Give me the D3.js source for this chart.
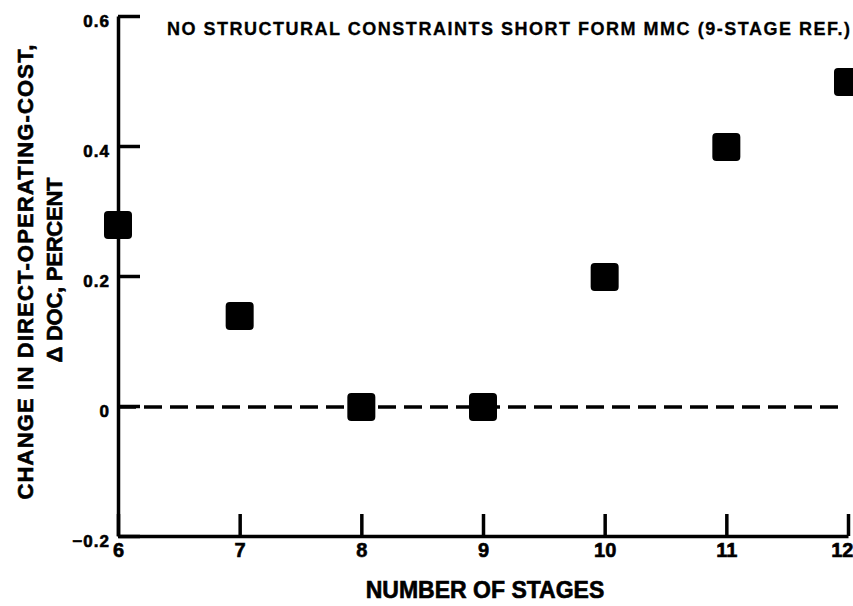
<!DOCTYPE html>
<html>
<head>
<meta charset="utf-8">
<script src="https://cdn.jsdelivr.net/npm/d3@7"></script>
<style>
  html, body { margin: 0; padding: 0; background: #fff; }
  svg { display: block; }
  text { font-family: "Liberation Sans", Arial, Helvetica, sans-serif; font-weight: bold; fill: #000; }
  .heavy { stroke: #000; stroke-width: 0.6px; paint-order: stroke; }
</style>
</head>
<body>
<svg id="chart" width="853" height="606"></svg>
<script>
// Number of compressor stages and the change in direct operating cost (percent)
const stages = [6, 7, 8, 9, 10, 11, 12];
const deltaDoc = [0.28, 0.14, 0.0, 0.0, 0.2, 0.4, 0.5];

const xTicks = [6, 7, 8, 9, 10, 11, 12];
const yTicks = [-0.2, 0, 0.2, 0.4, 0.6];
const yTickLabels = ["\u22120.2", "0", "0.2", "0.4", "0.6"];

const titleText = "NO STRUCTURAL CONSTRAINTS SHORT FORM MMC (9-STAGE REF.)";
const xTitle = "NUMBER OF STAGES";
const yTitleLines = ["CHANGE IN DIRECT-OPERATING-COST,", "\u0394 DOC, PERCENT"];

const svg = d3.select("#chart");

const x = d3.scaleLinear().domain([6, 12]).range([118, 848]);
const y = d3.scaleLinear().domain([-0.2, 0.6]).range([536, 16]);

// Reference line at zero change
svg.append("line")
  .attr("x1", x(6)).attr("x2", x(11.94))
  .attr("y1", y(0) + 1).attr("y2", y(0) + 1)
  .attr("stroke", "#000")
  .attr("stroke-width", 3.5)
  .attr("stroke-dasharray", "18,8");

// Left axis: ticks point inward, labels on the outside
const yAxis = d3.axisLeft(y)
  .tickValues(yTicks)
  .tickFormat((d, i) => yTickLabels[i])
  .tickSizeInner(-22)
  .tickSizeOuter(0)
  .tickPadding(8);

const gy = svg.append("g")
  .attr("transform", `translate(${x(6)},0)`)
  .call(yAxis)
  .attr("font-size", null)
  .attr("font-family", null);
gy.select(".domain").attr("stroke-width", 3.5);
gy.selectAll(".tick line").attr("stroke-width", 3.5);
gy.selectAll(".tick text")
  .attr("class", "heavy")
  .attr("dy", "0.6em")
  .style("font-size", "17px")
  .style("letter-spacing", "1px")
  .style("font-weight", "bold")
  .style("fill", "#000");

// Bottom axis: ticks point up into the plot
const xAxis = d3.axisBottom(x)
  .tickValues(xTicks)
  .tickFormat(d3.format("d"))
  .tickSizeInner(-22)
  .tickSizeOuter(0)
  .tickPadding(7);

const gx = svg.append("g")
  .attr("transform", `translate(0,${y(-0.2)})`)
  .call(xAxis)
  .attr("font-size", null)
  .attr("font-family", null);
gx.select(".domain").attr("stroke-width", 3.5);
gx.selectAll(".tick line").attr("stroke-width", 3.5);
gx.selectAll(".tick text")
  .attr("class", "heavy")
  .style("font-size", "20px")
  .style("font-weight", "bold")
  .style("fill", "#000");
// keep the last stage label inside the page edge
gx.selectAll(".tick text").filter(d => d === 12)
  .attr("text-anchor", "end")
  .attr("x", 5);

// Data markers: filled squares with softened corners
const size = 28;
svg.append("g")
  .selectAll("rect")
  .data(stages.map((s, i) => ({ s, v: deltaDoc[i] })))
  .join("rect")
  .attr("x", d => x(d.s) - size / 2)
  .attr("y", d => y(d.v) - size / 2 + 1)
  .attr("width", size)
  .attr("height", size)
  .attr("rx", 4)
  .attr("fill", "#000");

// Heading inside the plot
svg.append("text")
  .attr("class", "heavy")
  .attr("x", 167)
  .attr("y", 35)
  .style("font-size", "18px")
  .style("stroke-width", "0.3px")
  .attr("textLength", 683)
  .attr("lengthAdjust", "spacing")
  .text(titleText);

// X axis title
svg.append("text")
  .attr("class", "heavy")
  .attr("x", 485)
  .attr("y", 598)
  .attr("text-anchor", "middle")
  .style("font-size", "23px")
  .text(xTitle);

// Y axis title, two rotated lines
const yTitle = svg.append("g");
yTitle.append("text")
  .attr("class", "heavy")
  .attr("transform", "translate(33,272) rotate(-90)")
  .attr("text-anchor", "middle")
  .style("font-size", "22px")
  .attr("textLength", 455)
  .attr("lengthAdjust", "spacing")
  .text(yTitleLines[0]);
yTitle.append("text")
  .attr("class", "heavy")
  .attr("transform", "translate(62,270) rotate(-90)")
  .attr("text-anchor", "middle")
  .style("font-size", "22px")
  .attr("textLength", 185)
  .attr("lengthAdjust", "spacing")
  .text(yTitleLines[1]);
</script>
</body>
</html>
